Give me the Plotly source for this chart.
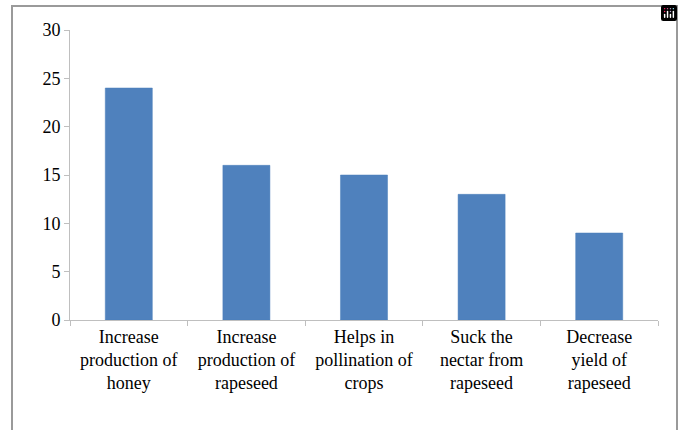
import plotly.graph_objects as go

categories = [
    "Increase<br>production of<br>honey",
    "Increase<br>production of<br>rapeseed",
    "Helps in<br>pollination of<br>crops",
    "Suck the<br>nectar from<br>rapeseed",
    "Decrease<br>yield of<br>rapeseed",
]
values = [24, 16, 15, 13, 9]
y_ticks = [0, 5, 10, 15, 20, 25, 30]

W, H = 683, 430
L, R, T, B = 70, 25, 30, 110
pw, ph = W - L - R, H - T - B

def px_to_paper_x(px):
    return (px - L) / pw

def px_to_paper_y(py):
    return (H - B - py) / ph

fig = go.Figure(
    go.Bar(
        x=categories,
        y=values,
        marker=dict(color="#4F81BD", line=dict(color="#4A7EBB", width=0.5)),
        width=0.4,
    )
)

font = dict(family="Liberation Serif", size=18, color="#000000")

fig.update_layout(
    width=W,
    height=H,
    margin=dict(l=L, r=R, t=T, b=B),
    paper_bgcolor="white",
    plot_bgcolor="white",
    showlegend=False,
    font=font,
    modebar=dict(bgcolor="rgba(0,0,0,0)", color="rgba(0,0,0,0)", activecolor="rgba(0,0,0,0)"),
    shapes=[
        dict(
            type="rect",
            xref="paper",
            yref="paper",
            x0=px_to_paper_x(12),
            x1=px_to_paper_x(677),
            y0=px_to_paper_y(440),
            y1=px_to_paper_y(6),
            line=dict(color="#9A9A9A", width=2),
            fillcolor="rgba(0,0,0,0)",
            layer="below",
        )
    ],
)

fig.update_xaxes(
    type="category",
    showline=True,
    linecolor="#BFBFBF",
    linewidth=1,
    ticks="outside",
    tickson="boundaries",
    ticklen=5,
    tickcolor="#BFBFBF",
    showgrid=False,
    tickfont=font,
    tickangle=0,
)
fig.update_yaxes(
    range=[0, 30],
    tickvals=y_ticks,
    showline=True,
    linecolor="#BFBFBF",
    linewidth=1,
    ticks="outside",
    ticklen=5,
    tickcolor="#BFBFBF",
    showgrid=False,
    zeroline=False,
    tickfont=font,
)

fig.write_html(
    "out.html",
    post_script="document.body.style.margin='0';document.body.style.overflow='hidden';",
)
